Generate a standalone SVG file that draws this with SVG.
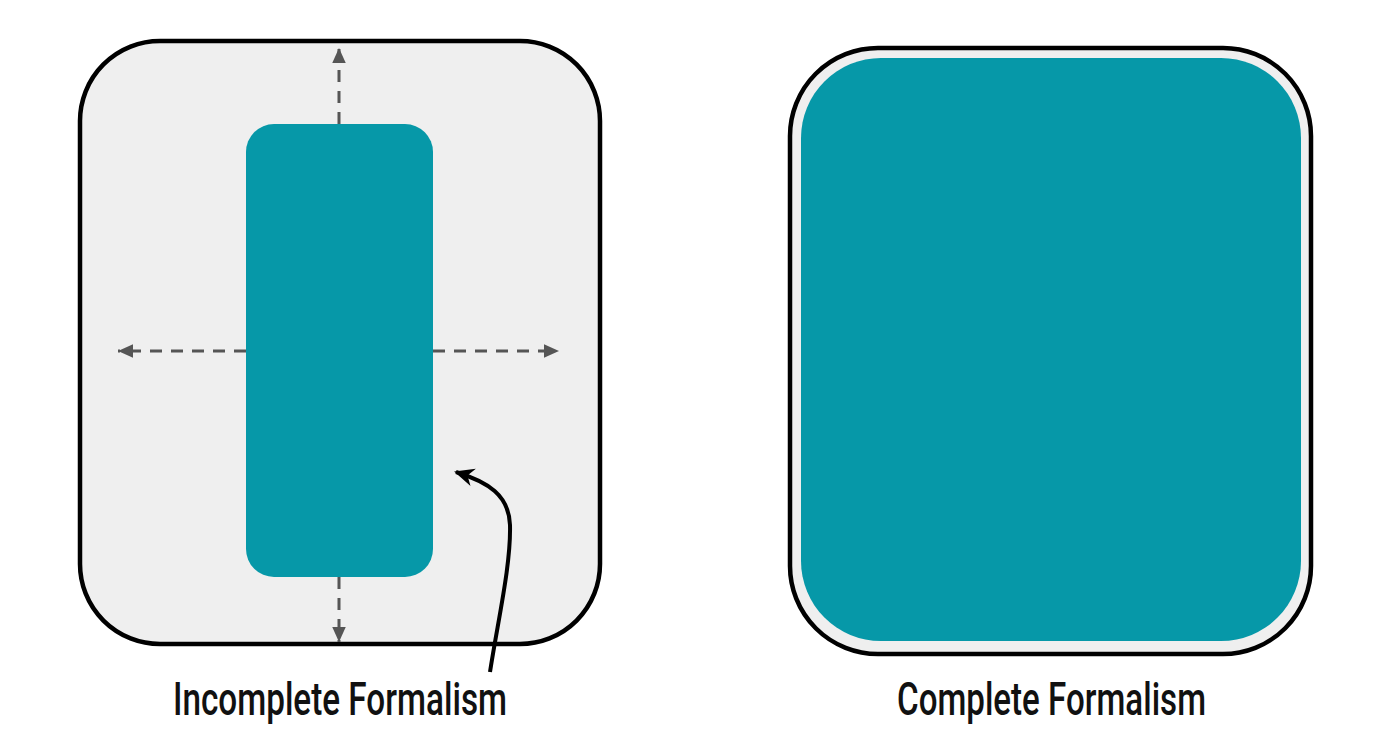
<svg xmlns="http://www.w3.org/2000/svg" width="1400" height="755" viewBox="0 0 1400 755">
<defs>
<style>
.frame{fill:#efefef;stroke:#000;stroke-width:4.5}
.teal{fill:#0698a8}
.dash{stroke:#555;stroke-width:3;stroke-dasharray:12 9;fill:none}
.label{font-family:Roboto,"Liberation Sans",Arial,sans-serif;font-size:46px;font-weight:500;fill:#111}
</style>
<marker id="ah" viewBox="0 0 10 10" refX="10" refY="5" markerWidth="15" markerHeight="15" markerUnits="userSpaceOnUse" orient="auto"><path d="M0,0.5 L10,5 L0,9.5 z" fill="#555"/></marker>
<marker id="ahk" viewBox="0 0 10 10" refX="9" refY="5" markerWidth="20" markerHeight="20" markerUnits="userSpaceOnUse" orient="auto"><path d="M0,0.5 L10,5 L0,9.5 L3,5 z" fill="#000"/></marker>
</defs>
<rect width="1400" height="755" fill="#fff"/>
<g id="incomplete">
<rect class="frame" x="80" y="41" width="520" height="603" rx="80" ry="80"/>
<rect class="teal" x="246" y="124" width="187" height="453" rx="28" ry="28"/>
</g>
<g id="connectors">
<line class="dash" x1="339" y1="124" x2="339" y2="48" marker-end="url(#ah)"/>
<line class="dash" x1="339" y1="577" x2="339" y2="642" marker-end="url(#ah)"/>
<line class="dash" x1="246" y1="351" x2="118" y2="351" marker-end="url(#ah)"/>
<line class="dash" x1="433" y1="351" x2="559" y2="351" marker-end="url(#ah)"/>
<path d="M490 672 C498 620 511 565 510 525 C509 495 488 482 456 472" fill="none" stroke="#000" stroke-width="4" marker-end="url(#ahk)"/>
</g>
<g id="complete">
<rect class="frame" x="790" y="48" width="521" height="606" rx="88" ry="88"/>
<rect class="teal" x="801" y="58" width="500" height="583" rx="80" ry="80"/>
</g>
<g id="labels">
<text class="label" x="173" y="715" textLength="334" lengthAdjust="spacingAndGlyphs">Incomplete Formalism</text>
<text class="label" x="897" y="715" textLength="309" lengthAdjust="spacingAndGlyphs">Complete Formalism</text>
</g>
</svg>
